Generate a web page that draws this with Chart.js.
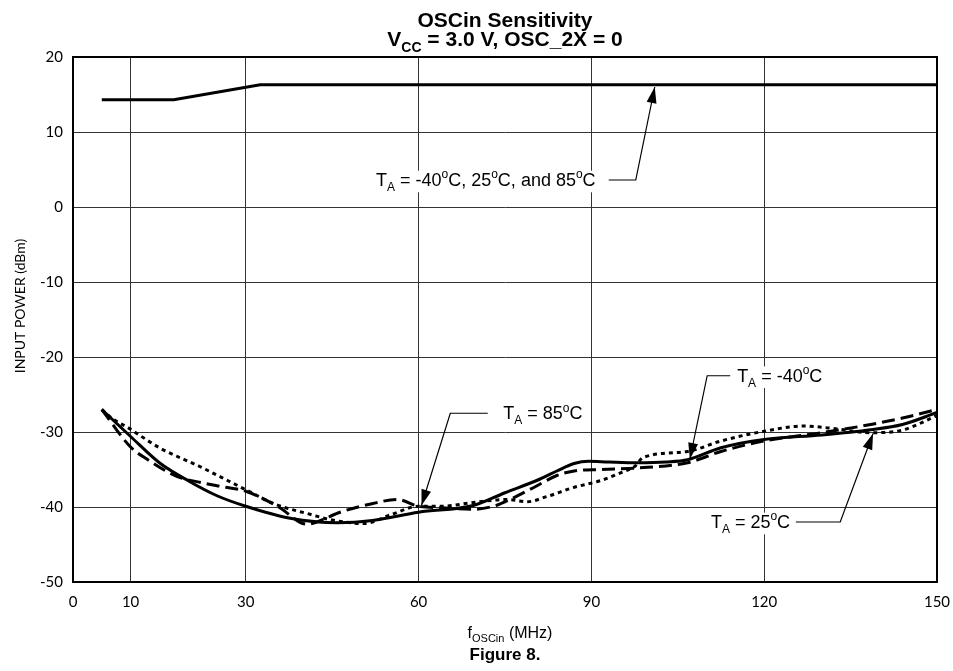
<!DOCTYPE html>
<html>
<head>
<meta charset="utf-8">
<title>OSCin Sensitivity</title>
<script src="https://cdn.jsdelivr.net/npm/chart.js"></script>
<style>
  html, body { margin: 0; padding: 0; background: #fff; }
  #wrap { width: 953px; height: 671px; }
</style>
</head>
<body>
<div id="wrap"><canvas id="chart" width="953" height="671"></canvas></div>
<script>
// tick labels
const xTicks = [0, 10, 30, 60, 90, 120, 150];

// upper curve, same for all three temperatures
const freqTop = [5, 17.5, 32.5, 150];
const powerTop = [14.3, 14.3, 16.3, 16.3];

// lower curves (solid, long dash, short dash)
const freqSolid = [5, 10, 15, 20, 25, 30, 37.7, 46, 52, 60, 69.5, 75, 81, 84, 87, 89.5, 93, 98, 103, 106.7, 112.5, 120, 130, 138.5, 144, 150];
const powerSolid = [-27, -30.6, -34.1, -36.5, -38.5, -39.9, -41.5, -42.1, -41.8, -40.7, -39.8, -38.1, -36.3, -35.2, -34.2, -33.9, -34.0, -34.1, -34.0, -33.7, -32.1, -31.0, -30.4, -29.7, -29.0, -27.4];

const freqDash = [5, 10, 13, 18, 22.6, 26, 30, 35.5, 40.7, 43, 46, 51.7, 56.3, 60, 64, 69.5, 73, 75.3, 80, 84, 87, 91.5, 98, 106.7, 112.5, 120, 129.8, 138.5, 144.2, 150];
const powerDash = [-27, -32.0, -33.7, -35.9, -36.8, -37.3, -37.9, -39.9, -42.3, -41.8, -40.8, -39.6, -39.0, -39.9, -40.1, -40.3, -39.9, -39.2, -37.4, -35.8, -35.2, -35.0, -34.8, -34.1, -32.6, -31.2, -30.1, -29.0, -28.1, -27.0];

const freqDot = [5, 7, 9.5, 15, 22, 30, 35, 41.3, 44.7, 50.5, 55.3, 60, 64, 69.5, 75.3, 78.8, 82.3, 86.9, 91.5, 95.2, 97.5, 99, 106.7, 112.5, 120, 127, 132.7, 138.5, 144.2, 150];
const powerDot = [-27, -28.3, -29.4, -32.1, -34.6, -37.7, -39.6, -41.0, -41.7, -42.2, -41.0, -39.9, -39.9, -39.4, -39.0, -39.3, -38.6, -37.4, -36.5, -35.4, -34.6, -33.4, -32.6, -31.2, -29.9, -29.2, -29.6, -30.1, -29.7, -27.8];

const toPoints = (xs, ys) => xs.map((x, i) => ({ x, y: ys[i] }));

const SANS = '"Liberation Sans", Arial, sans-serif';
const TICK_FONT = 'Lato, "Noto Sans", sans-serif';

// callout labels, in data units
const notes = [
  {
    segs: [['T'], ['A', 'sub'], [' = -40'], ['o', 'sup'], ['C, 25'], ['o', 'sup'], ['C, and 85'], ['o', 'sup'], ['C']],
    x: 52.6, y: 3.6, align: 'left',
    path: [[93.0, 3.6], [97.7, 3.6], [101, 16.0]]
  },
  {
    segs: [['T'], ['A', 'sub'], [' = 85'], ['o', 'sup'], ['C']],
    x: 74.7, y: -27.5, align: 'left',
    path: [[72.0, -27.5], [65.5, -27.5], [60.5, -39.8]]
  },
  {
    segs: [['T'], ['A', 'sub'], [' = -40'], ['o', 'sup'], ['C']],
    x: 115.3, y: -22.5, align: 'left',
    path: [[114.1, -22.5], [110.1, -22.5], [107.1, -33.6]]
  },
  {
    segs: [['T'], ['A', 'sub'], [' = 25'], ['o', 'sup'], ['C']],
    x: 124.5, y: -42, align: 'right',
    path: [[125.5, -42], [133.2, -42], [138.9, -30.2]]
  }
];

function segFont(kind, size, bold) {
  const s = kind ? Math.round(size * 0.68) : size;
  return (bold ? 'bold ' : '') + s + 'px ' + SANS;
}

// draws text with sub/superscript pieces
function drawRich(ctx, segs, x, baseline, align, size, bold, bg) {
  let w = 0;
  const widths = segs.map(([t, kind]) => {
    ctx.font = segFont(kind, size, bold);
    const m = ctx.measureText(t).width;
    w += m;
    return m;
  });
  let cx = align === 'left' ? x : align === 'right' ? x - w : x - w / 2;
  if (bg) {
    ctx.fillStyle = '#fff';
    ctx.fillRect(cx - 3, baseline - size * 0.85, w + 6, size * 1.2);
  }
  ctx.fillStyle = '#000';
  ctx.textBaseline = 'alphabetic';
  ctx.textAlign = 'left';
  segs.forEach(([t, kind], i) => {
    ctx.font = segFont(kind, size, bold);
    let dy = 0;
    if (kind === 'sub') dy = size * 0.28;
    if (kind === 'sup') dy = -size * 0.42;
    ctx.fillText(t, cx, baseline + dy);
    cx += widths[i];
  });
}

const decor = {
  id: 'decor',
  beforeDatasetsDraw(chart) {
    const { ctx, chartArea: a } = chart;
    ctx.save();
    ctx.strokeStyle = '#000';
    ctx.lineWidth = 2;
    ctx.strokeRect(a.left, a.top, a.right - a.left, a.bottom - a.top);
    ctx.restore();
  },
  afterDraw(chart) {
    const { ctx, chartArea: a, scales: { x, y } } = chart;
    const mid = (a.left + a.right) / 2;
    ctx.save();

    // title
    drawRich(ctx, [['OSCin Sensitivity']], mid, 27, 'center', 21, true, false);
    drawRich(ctx, [['V'], ['CC', 'sub'], [' = 3.0 V, OSC_2X = 0']], mid, 46, 'center', 21, true, false);

    // axis titles
    drawRich(ctx, [['f'], ['OSCin', 'sub'], [' (MHz)']], mid + 5, 638, 'center', 16, false, false);
    drawRich(ctx, [['Figure 8.']], mid, 660, 'center', 17, true, false);
    ctx.save();
    ctx.translate(25, 306);
    ctx.rotate(-Math.PI / 2);
    ctx.font = '14px ' + TICK_FONT;
    ctx.fillStyle = '#000';
    ctx.textAlign = 'center';
    ctx.textBaseline = 'alphabetic';
    ctx.fillText('INPUT POWER (dBm)', 0, 0);
    ctx.restore();

    // callouts
    notes.forEach(n => {
      const pts = n.path.map(([px, py]) => [x.getPixelForValue(px), y.getPixelForValue(py)]);
      drawRich(ctx, n.segs, x.getPixelForValue(n.x), y.getPixelForValue(n.y) + 6, n.align, 18, false, true);
      ctx.strokeStyle = '#000';
      ctx.lineWidth = 1.2;
      ctx.beginPath();
      pts.forEach(([px, py], i) => (i ? ctx.lineTo(px, py) : ctx.moveTo(px, py)));
      ctx.stroke();
      const [x1, y1] = pts[pts.length - 2];
      const [x2, y2] = pts[pts.length - 1];
      const ang = Math.atan2(y2 - y1, x2 - x1);
      const len = 16, half = 5;
      ctx.fillStyle = '#000';
      ctx.beginPath();
      ctx.moveTo(x2, y2);
      ctx.lineTo(x2 - len * Math.cos(ang) + half * Math.sin(ang), y2 - len * Math.sin(ang) - half * Math.cos(ang));
      ctx.lineTo(x2 - len * Math.cos(ang) - half * Math.sin(ang), y2 - len * Math.sin(ang) + half * Math.cos(ang));
      ctx.closePath();
      ctx.fill();
    });
    ctx.restore();
  }
};

const lineStyle = {
  borderColor: '#000',
  borderWidth: 3,
  pointRadius: 0,
  fill: false,
  cubicInterpolationMode: 'monotone'
};

new Chart(document.getElementById('chart').getContext('2d'), {
  type: 'line',
  data: {
    datasets: [
      { ...lineStyle, label: 'TA = -40°C, 25°C, and 85°C', data: toPoints(freqTop, powerTop), cubicInterpolationMode: 'default', tension: 0 },
      { ...lineStyle, label: 'solid', data: toPoints(freqSolid, powerSolid) },
      { ...lineStyle, label: 'long dash', data: toPoints(freqDash, powerDash), borderDash: [13, 6] },
      { ...lineStyle, label: 'short dash', data: toPoints(freqDot, powerDot), borderDash: [4, 4] }
    ]
  },
  options: {
    responsive: false,
    animation: false,
    layout: { padding: { top: 57, right: 16, left: 0, bottom: 0 } },
    plugins: { legend: { display: false }, title: { display: false }, tooltip: { enabled: false } },
    scales: {
      x: {
        type: 'linear',
        min: 0,
        max: 150,
        afterBuildTicks: s => { s.ticks = xTicks.map(v => ({ value: v })); },
        afterFit: s => { s.height = 89; s.paddingLeft = 0; s.paddingRight = 0; },
        grid: { color: '#333', lineWidth: 1, drawTicks: false },
        border: { color: '#000', width: 2 },
        ticks: { color: '#000', padding: 11, maxRotation: 0, autoSkip: false, font: { family: TICK_FONT, size: 15 } }
      },
      y: {
        min: -50,
        max: 20,
        afterFit: s => { s.width = 73; s.paddingTop = 0; s.paddingBottom = 0; },
        grid: { color: '#333', lineWidth: 1, drawTicks: false },
        border: { color: '#000', width: 2 },
        ticks: { stepSize: 10, color: '#000', padding: 10, font: { family: TICK_FONT, size: 15 } }
      }
    }
  },
  plugins: [decor]
});
</script>
</body>
</html>
